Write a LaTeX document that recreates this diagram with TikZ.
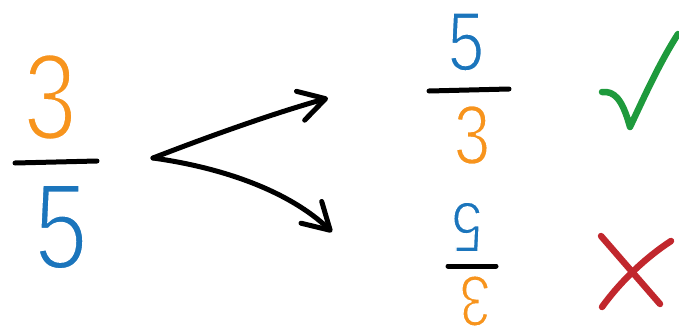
\documentclass[tikz,border=0pt]{standalone}
\usepackage{fontspec}
\usetikzlibrary{arrows.meta}
\newfontfamily\digitfont{Liberation Sans}
\definecolor{numorange}{HTML}{F7941D}
\definecolor{numblue}{HTML}{1B75BC}
\definecolor{okgreen}{HTML}{1E9A3C}
\definecolor{badred}{HTML}{C1272D}
% thin the glyph strokes: fill, then stroke the outline in white
\newcommand{\thindigit}[2]{\special{pdf:literal direct 2 Tr 1 1 1 RG #2 w}#1\special{pdf:literal direct 0 Tr}}
\tikzset{
  digit/.style={inner sep=0pt, outer sep=0pt, xscale=0.78, font=\digitfont},
  bigdigit/.style={digit, font=\digitfont\fontsize{123}{123}\selectfont},
  middigit/.style={digit, font=\digitfont\fontsize{84}{84}\selectfont},
  smalldigit/.style={digit, font=\digitfont\fontsize{72}{72}\selectfont},
  fracbar/.style={line width=5pt, line cap=round, black},
  splitarrow/.style={line width=5pt, line cap=round, line join=round,
    -{Straight Barb[length=26pt,width=30pt,round]}},
  mark stroke/.style={line width=6.5pt, line cap=round, line join=round}
}
\begin{document}
\begin{tikzpicture}[x=1pt,y=-1pt]
\useasboundingbox (0,0) rectangle (679,332);

% original fraction 3/5
\node[bigdigit, text=numorange] (n3) at (50,97) {\thindigit{3}{3.5}};
\node[bigdigit, text=numblue] (n5) at (61,227) {\thindigit{5}{3.5}};
\draw[fracbar] (15,163) -- (97,161);

% the two ways of flipping it
\coordinate (split) at (153,158);
\coordinate (upend) at (328,98);
\coordinate (downend) at (332,232);
\draw[splitarrow] (split) .. controls (215,134) and (275,113) .. (upend);
\draw[splitarrow] (split) .. controls (225,168) and (290,192) .. (downend);

% reciprocal 5/3
\node[middigit, text=numblue] (r5) at (466,42) {\thindigit{5}{2}};
\node[middigit, text=numorange] (r3) at (472,135) {\thindigit{3}{2}};
\draw[fracbar] (429,91) -- (509,89);

% fraction turned upside down
\node[smalldigit, text=numblue, rotate=180] (u5) at (467,227) {\thindigit{5}{1.8}};
\node[smalldigit, text=numorange, rotate=180] (u3) at (475,301) {\thindigit{3}{1.8}};
\draw[fracbar] (448,266) -- (496,266);

% tick
\draw[mark stroke, okgreen] (602,92) .. controls (614,91) and (622,98) .. (630,127)
  .. controls (645,95) and (660,62) .. (678,34);

% cross
\draw[mark stroke, badred] (601,236) -- (660,304);
\draw[mark stroke, badred] (671,241) .. controls (645,258) and (620,282) .. (602,307);
\end{tikzpicture}
\end{document}
